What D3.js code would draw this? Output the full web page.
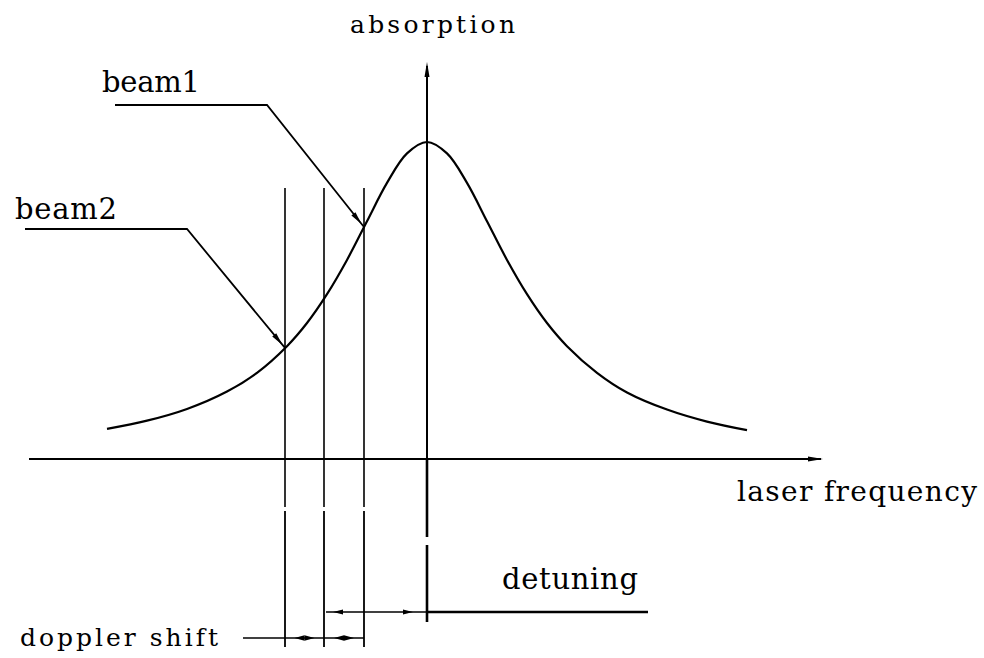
<!DOCTYPE html>
<html>
<head>
<meta charset="utf-8">
<script src="https://cdn.jsdelivr.net/npm/d3@7"></script>
<style>
  html, body { margin: 0; padding: 0; background: #fff; }
  svg { display: block; }
</style>
</head>
<body>
<svg id="chart" width="984" height="658"></svg>
<script>
// ---- data ----
const freq       = [-32, -28, -24, -20, -17, -14, -12, -10, -8, -6, -4, -2, 0, 2, 4, 6, 8, 10, 12, 14, 17, 20, 24, 28, 32];
const absorption = [0.095, 0.121, 0.158, 0.213, 0.272, 0.356, 0.429, 0.520, 0.628, 0.750, 0.871, 0.964, 1.0,
                    0.964, 0.871, 0.750, 0.628, 0.520, 0.429, 0.356, 0.272, 0.210, 0.156, 0.118, 0.091];
const beamNames  = ["beam2", "middle", "beam1"];
const beamFreqs  = [-14.2, -10.3, -6.3];
const resonance  = 0;
const axisLabels = ["absorption", "laser frequency"];
const annoLabels = ["beam1", "beam2", "detuning", "doppler shift"];

// ---- scales ----
const svg = d3.select("#chart");
const x = d3.scaleLinear().domain([-40, 40]).range([27, 827]);
const y = d3.scaleLinear().domain([0, 1]).range([459, 142]);

const absAt = f => {
  const i = d3.bisectRight(freq, f) - 1;
  const t = (f - freq[i]) / (freq[i + 1] - freq[i]);
  return absorption[i] + t * (absorption[i + 1] - absorption[i]);
};

const g = svg.append("g").attr("stroke", "#000").attr("fill", "none");

// horizontal axis
const xAxisEnd = 823;
g.append("line").attr("x1", 29).attr("x2", xAxisEnd - 2).attr("y1", y(0)).attr("y2", y(0)).attr("stroke-width", 2);
svg.append("path").attr("fill", "#000")
  .attr("d", `M${xAxisEnd},${y(0)} L${xAxisEnd - 15},${y(0) - 2.5} L${xAxisEnd - 15},${y(0) + 2.5} Z`);

// vertical axis (above and below frequency axis)
const x0 = x(resonance);
g.append("line").attr("x1", x0).attr("x2", x0).attr("y1", 66).attr("y2", y(0)).attr("stroke-width", 2);
g.append("line").attr("x1", x0).attr("x2", x0).attr("y1", y(0)).attr("y2", 537).attr("stroke-width", 2.6);
g.append("line").attr("x1", x0).attr("x2", x0).attr("y1", 545).attr("y2", 622).attr("stroke-width", 2.6);
svg.append("path").attr("fill", "#000")
  .attr("d", `M${x0},62 L${x0 - 2.5},77 L${x0 + 2.5},77 Z`);

// absorption curve
const line = d3.line().x((d, i) => x(freq[i])).y(d => y(d)).curve(d3.curveCatmullRom.alpha(0.5));
g.append("path").datum(absorption).attr("d", line).attr("stroke-width", 2.2).attr("stroke-linejoin", "round");

// beam vertical lines
beamFreqs.forEach(f => {
  g.append("line").attr("x1", x(f)).attr("x2", x(f)).attr("y1", 188).attr("y2", 507).attr("stroke-width", 1.6);
  g.append("line").attr("x1", x(f)).attr("x2", x(f)).attr("y1", 511).attr("y2", 647).attr("stroke-width", 1.8);
});

// arrowhead helper (tip at (tx,ty), direction from (fx,fy))
function arrowHead(tx, ty, fx, fy, len, half) {
  const a = Math.atan2(ty - fy, tx - fx);
  const bx = tx - len * Math.cos(a), by = ty - len * Math.sin(a);
  const px = -Math.sin(a) * half, py = Math.cos(a) * half;
  svg.append("path").attr("fill", "#000")
    .attr("d", `M${tx},${ty} L${bx + px},${by + py} L${bx - px},${by - py} Z`);
}

// beam label leaders
const leaders = [
  { f: beamFreqs[2], start: [115, 105], elbow: [267, 105] },
  { f: beamFreqs[0], start: [25, 229], elbow: [187, 229] }
];
leaders.forEach(l => {
  const tx = x(l.f), ty = y(absAt(l.f));
  g.append("path").attr("stroke-width", 1.8)
    .attr("d", `M${l.start[0]},${l.start[1]} L${l.elbow[0]},${l.elbow[1]} L${tx},${ty}`);
  arrowHead(tx - 2.5, ty - 3, l.elbow[0], l.elbow[1], 13, 2.6);
});

// detuning dimension
const yDet = 612;
g.append("line").attr("x1", x(beamFreqs[1]) + 2).attr("x2", 648).attr("y1", yDet).attr("y2", yDet).attr("stroke-width", 1.6);
g.append("line").attr("x1", x0).attr("x2", 648).attr("y1", yDet).attr("y2", yDet).attr("stroke-width", 2.4);
arrowHead(x(beamFreqs[1]) + 9, yDet, x(beamFreqs[1]) + 20, yDet, 10, 2.5);
arrowHead(x0 - 14, yDet, x0 - 25, yDet, 10, 2.5);

// doppler shift dimension
const yDop = 638;
g.append("line").attr("x1", 243).attr("x2", x(beamFreqs[2])).attr("y1", yDop).attr("y2", yDop).attr("stroke-width", 1.6);
for (let i = 0; i < 2; i++) {
  const mid = (x(beamFreqs[i]) + x(beamFreqs[i + 1])) / 2;
  arrowHead(mid - 10, yDop, mid, yDop, 10, 2.8);
  arrowHead(mid + 10, yDop, mid, yDop, 10, 2.8);
}

// ---- texts ----
const SERIF = "'DejaVu Serif', serif";
function label(txt, tx, ty, size, width) {
  svg.append("text").attr("x", tx).attr("y", ty)
    .attr("font-family", SERIF)
    .style("font-family", SERIF)
    .attr("font-size", size)
    .attr("fill", "#000")
    .attr("textLength", width).attr("lengthAdjust", "spacing")
    .text(txt);
}
label(axisLabels[0], 350, 33, 25, 165);
label(axisLabels[1], 737, 501, 28, 240);
label(annoLabels[0], 102, 92, 29, 98);
label(annoLabels[1], 15, 219, 29, 102);
label(annoLabels[2], 502, 589, 29, 136);
label(annoLabels[3], 20, 646, 25, 198);
</script>
</body>
</html>
